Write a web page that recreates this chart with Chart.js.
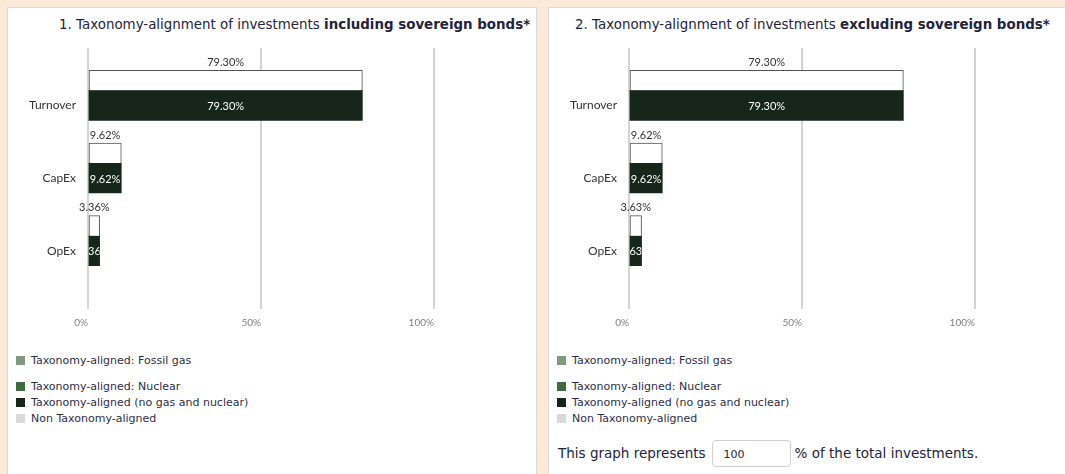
<!DOCTYPE html>
<html>
<head>
<meta charset="utf-8">
<script src="https://cdn.jsdelivr.net/npm/chart.js@4"></script>
<style>
  body { margin: 0; background: #fce9d7; overflow: hidden; width: 1065px; height: 474px; position: relative; font-family: "DejaVu Sans", sans-serif; color: #23243a; }
  .card { position: absolute; top: 7px; width: 530px; height: 480px; background: #fff; border: 1px solid #d9d9d9; box-sizing: border-box; }
  .title { position: absolute; top: 17px; font-size: 13.4px; white-space: nowrap; }
  .chart { position: absolute; top: 40px; }
  .legend { position: absolute; top: 353px; margin: 0; padding: 0; list-style: none; font-size: 11px; line-height: 16px; color: #2d2e45; }
  .legend li { white-space: nowrap; }
  .legend li:first-child { margin-bottom: 10px; }
  .legend span { display: inline-block; width: 9px; height: 9px; margin-right: 6px; vertical-align: -1px; }
  .share { position: absolute; left: 558px; top: 440px; font-size: 13.5px; line-height: 27px; white-space: nowrap; }
  .share .box { display: inline-block; width: 79px; height: 27px; box-sizing: border-box; border: 1px solid #cfcfcf; border-radius: 4px; font-size: 11px; padding-left: 11px; vertical-align: top; margin: 0 4px 0 6px; }
</style>
</head>
<body>
<div class="card" style="left:7px"></div>
<div class="card" style="left:548px"></div>

<div class="title" style="left:59px">1. Taxonomy-alignment of investments <b>including sovereign bonds*</b></div>
<div class="title" style="left:575px">2. Taxonomy-alignment of investments <b>excluding sovereign bonds*</b></div>

<canvas id="chartIncl" class="chart" style="left:8px" width="440" height="297"></canvas>
<canvas id="chartExcl" class="chart" style="left:549px" width="440" height="297"></canvas>

<ul class="legend" id="legendIncl" style="left:16px"></ul>
<ul class="legend" id="legendExcl" style="left:557px"></ul>

<div class="share">This graph represents<span class="box">100</span>% of the total investments.</div>

<script>
// Categories and values
const categories = ['Turnover', 'CapEx', 'OpEx'];

// 1. including sovereign bonds
const inclFossilGas = [0, 0, 0];
const inclNuclear = [0, 0, 0];
const inclAligned = [79.30, 9.62, 3.36];
const inclTotal = [79.30, 9.62, 3.36];

// 2. excluding sovereign bonds
const exclFossilGas = [0, 0, 0];
const exclNuclear = [0, 0, 0];
const exclAligned = [79.30, 9.62, 3.63];
const exclTotal = [79.30, 9.62, 3.63];

const xTicks = [0, 50, 100];

const legendItems = [
    { label: 'Taxonomy-aligned: Fossil gas', color: '#7f9a7f' },
    { label: 'Taxonomy-aligned: Nuclear', color: '#3f6b40' },
    { label: 'Taxonomy-aligned (no gas and nuclear)', color: '#16261a' },
    { label: 'Non Taxonomy-aligned', color: '#d9d9d9' }
];

const DARK = '#16261a';
const GRID = '#d4d4d4';
const chartFont = 'Lato, "DejaVu Sans", sans-serif';

// Writes the percentages above the outlined bars and inside the dark bars
const valueLabels = {
    id: 'valueLabels',
    afterDatasetsDraw(chart) {
        const ctx = chart.ctx;
        chart.data.datasets.forEach((ds, di) => {
            if (!ds.showLabel) return;
            const meta = chart.getDatasetMeta(di);
            meta.data.forEach((bar, i) => {
                const v = ds.data[i];
                if (v === null || v === undefined) return;
                const text = v.toFixed(2) + '%';
                const left = Math.min(bar.base, bar.x);
                const right = Math.max(bar.base, bar.x);
                const midX = (left + right) / 2;
                ctx.save();
                ctx.font = '11px ' + chartFont;
                ctx.textAlign = 'center';
                ctx.textBaseline = 'middle';
                if (ds.showLabel === 'above') {
                    ctx.fillStyle = '#333';
                    ctx.fillText(text, midX, bar.y - bar.height / 2 - 8);
                } else {
                    ctx.beginPath();
                    ctx.rect(left, bar.y - bar.height / 2, right - left, bar.height);
                    ctx.clip();
                    ctx.fillStyle = '#fff';
                    ctx.fillText(text, midX, bar.y + 1);
                }
                ctx.restore();
            });
        });
    }
};

function buildLegend(id) {
    const ul = document.getElementById(id);
    legendItems.forEach(item => {
        const li = document.createElement('li');
        li.innerHTML = '<span style="background:' + item.color + '"></span>' + item.label;
        ul.appendChild(li);
    });
}

function createTaxonomyChart(canvasId, total, fossilGas, nuclear, aligned) {
    const ctx = document.getElementById(canvasId).getContext('2d');
    return new Chart(ctx, {
        type: 'bar',
        data: {
            labels: categories,
            datasets: [
                {
                    // outlined total bar, sits above the filled bar
                    label: 'Taxonomy-aligned total',
                    data: total,
                    stack: 'total',
                    backgroundColor: '#fff',
                    borderColor: '#555',
                    borderWidth: { top: 1, left: 1, right: 1, bottom: 0 },
                    borderSkipped: false,
                    barThickness: 25,
                    maxBarThickness: 20,
                    showLabel: 'above'
                },
                {
                    label: 'Taxonomy-aligned: Fossil gas',
                    data: fossilGas,
                    stack: 'aligned',
                    backgroundColor: '#7f9a7f',
                    barThickness: 30
                },
                {
                    label: 'Taxonomy-aligned: Nuclear',
                    data: nuclear,
                    stack: 'aligned',
                    backgroundColor: '#3f6b40',
                    barThickness: 30
                },
                {
                    label: 'Taxonomy-aligned (no gas and nuclear)',
                    data: aligned,
                    stack: 'aligned',
                    backgroundColor: DARK,
                    barThickness: 30,
                    showLabel: 'inside'
                },
                {
                    // empty third group so the filled bar lands on the category centre
                    label: 'spacer',
                    data: categories.map(() => null),
                    stack: 'spacer',
                    barThickness: 30
                }
            ]
        },
        options: {
            indexAxis: 'y',
            responsive: false,
            animation: false,
            devicePixelRatio: 1,
            layout: { padding: { top: 8, right: 14, left: 0, bottom: 0 } },
            plugins: {
                legend: { display: false },
                tooltip: { enabled: false }
            },
            scales: {
                x: {
                    position: 'bottom',
                    stacked: true,
                    min: xTicks[0],
                    max: xTicks[xTicks.length - 1],
                    afterBuildTicks: scale => { scale.ticks = xTicks.map(v => ({ value: v })); },
                    grid: { color: GRID, lineWidth: 2, drawTicks: true, tickLength: 22, tickColor: GRID },
                    border: { display: false },
                    ticks: {
                        align: 'end',
                        padding: 8,
                        color: '#808080',
                        font: { family: chartFont, size: 10 },
                        callback: v => v + '%'
                    }
                },
                x2: {
                    position: 'top',
                    min: xTicks[0],
                    max: xTicks[xTicks.length - 1],
                    afterBuildTicks: scale => { scale.ticks = xTicks.map(v => ({ value: v })); },
                    grid: { color: GRID, lineWidth: 2, drawOnChartArea: false, drawTicks: true, tickLength: 21, tickColor: GRID },
                    border: { display: false },
                    ticks: { display: false }
                },
                y: {
                    afterFit: scale => { scale.width = 80; },
                    grid: { display: false, drawTicks: false },
                    border: { display: false },
                    ticks: {
                        padding: 12,
                        color: '#333',
                        font: { family: chartFont, size: 12 }
                    }
                }
            }
        },
        plugins: [valueLabels]
    });
}

buildLegend('legendIncl');
buildLegend('legendExcl');
createTaxonomyChart('chartIncl', inclTotal, inclFossilGas, inclNuclear, inclAligned);
createTaxonomyChart('chartExcl', exclTotal, exclFossilGas, exclNuclear, exclAligned);
</script>
</body>
</html>
